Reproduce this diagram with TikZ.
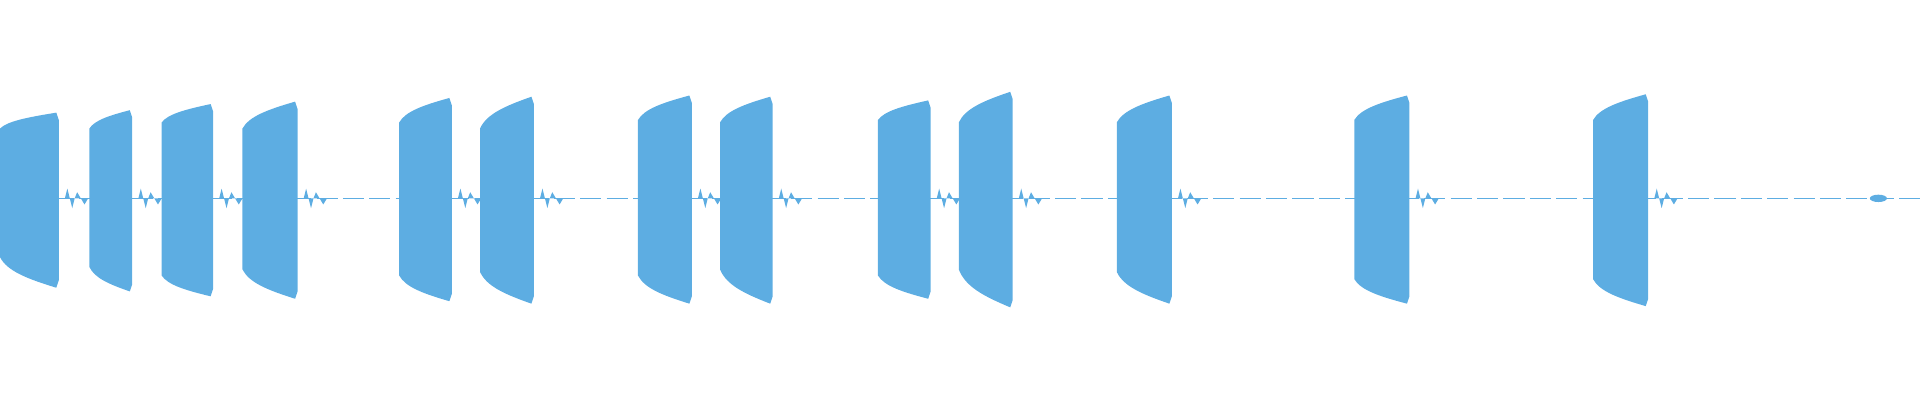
\documentclass[tikz,border=0pt]{standalone}
\definecolor{wave}{RGB}{93,173,226}
\begin{document}
\begin{tikzpicture}[x=0.012245cm,y=-0.012245cm]
\useasboundingbox (0,0) rectangle (1568,327);
\draw[wave,line width=0.4pt,dash pattern=on 6pt off 1.5pt] (0,162) -- (1568,162);
\foreach \a/\b/\tl/\tr/\bl/\br in {0/48/105/92/210/235, 73/108/105/90/218/238, 132/174/100/85/225/242, 198/243/105/83/220/244, 326/369/100/80/225/246, 392/436/105/79/222/248, 521/565/98/78/225/248, 588/631/100/79/220/248, 717/760/98/82/225/244, 783/827/100/75/220/251, 912/957/100/78/222/248, 1106/1151/98/78/228/248, 1301/1346/98/77/228/250}{
  \fill[wave] (\a,\tl) .. controls ({\a+0.12*(\b-\a)},{\tl-0.45*(\tl-\tr)}) and ({\a+0.45*(\b-\a)},{\tr+0.3*(\tl-\tr)}) .. (\b-2,\tr)
    -- (\b,\tr+6) -- (\b,\br-6) -- (\b-2,\br)
    .. controls ({\a+0.45*(\b-\a)},{\br-0.3*(\br-\bl)}) and ({\a+0.12*(\b-\a)},{\bl+0.45*(\br-\bl)}) .. (\a,\bl) -- cycle;
  \fill[wave] (\b+5,162) -- (\b+7,154) -- (\b+9,162) -- (\b+11,170) -- (\b+13,162) -- (\b+15,157) -- (\b+18,162) -- (\b+21,167) -- (\b+24,162) -- cycle;
}
\fill[wave] (1534,162) ellipse (7 and 3);
\end{tikzpicture}
\end{document}
